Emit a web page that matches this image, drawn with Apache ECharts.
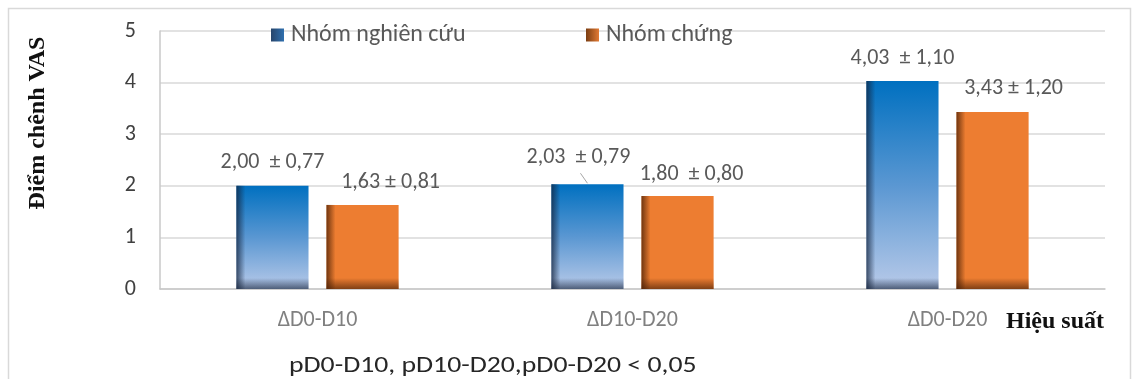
<!DOCTYPE html>
<html>
<head>
<meta charset="utf-8">
<script src="https://cdn.jsdelivr.net/npm/echarts@6/dist/echarts.min.js"></script>
<style>
  html, body { margin: 0; padding: 0; background: #fff; }
  #chart { width: 1137px; height: 379px; }
</style>
</head>
<body>
<div id="chart"></div>
<script>
// VAS score change per period, mean ± SD, for the two groups
const categories = ['ΔD0-D10', 'ΔD10-D20', 'ΔD0-D20'];
const studyMean = [2.00, 2.03, 4.03];
const studySD = [0.77, 0.79, 1.10];
const controlMean = [1.63, 1.80, 3.43];
const controlSD = [0.81, 0.80, 1.20];
const yTicks = [0, 1, 2, 3, 4, 5];
const seriesNames = ['Nhóm nghiên cứu', 'Nhóm chứng'];
const yTitle = 'Điểm chênh VAS';
const xTitle = 'Hiệu suất';
const footnote = 'pD0-D10, pD10-D20,pD0-D20 < 0,05';

const SANS = 'Carlito, Lato, "Liberation Sans", sans-serif';
const SERIF = '"Liberation Serif", "DejaVu Serif", serif';

// bar geometry, as fractions of one category band
const BAR_RATIO = 0.229;
const OFFSET_RATIO = 0.143;

// value-label placement per bar: [dx, dy above bar top, separator before ±, leader line]
const labelPlacement = [
  [[0, 23, '  ', false], [-9, 27, '  ', true], [0, 23, '  ', false]],
  [[28, 22, ' ', false], [14, 22, '  ', false], [21, 24, ' ', false]]
];

const fmt = v => v.toFixed(2).replace('.', ',');

const themes = [
  {
    fill: new echarts.graphic.LinearGradient(0, 0, 0, 1, [
      { offset: 0, color: '#0070C0' },
      { offset: 0.5, color: '#5a97d2' },
      { offset: 1, color: '#B8CAE9' }
    ]),
    edge: 'rgba(20,35,60,',
    legend: new echarts.graphic.LinearGradient(0, 0, 1, 0, [
      { offset: 0, color: '#27456b' },
      { offset: 1, color: '#2f6fae' }
    ])
  },
  {
    fill: '#ED7D31',
    edge: 'rgba(70,30,5,',
    legend: new echarts.graphic.LinearGradient(0, 0, 1, 0, [
      { offset: 0, color: '#7a3d12' },
      { offset: 1, color: '#e27a34' }
    ])
  }
];

function makeRender(si, means, sds) {
  const th = themes[si];
  return function (params, api) {
    const ci = api.value(0);
    const val = api.value(1);
    const base = api.coord([ci, 0]);
    const top = api.coord([ci, val]);
    const band = api.size([1, 0])[0];
    const w = band * BAR_RATIO;
    const cx = base[0] + (si === 0 ? -1 : 1) * band * OFFSET_RATIO;
    const x = cx - w / 2;
    const h = base[1] - top[1];
    const pl = labelPlacement[si][ci];
    const lx = cx + pl[0];
    const ly = top[1] - pl[1];
    const children = [
      { type: 'rect', shape: { x: x, y: top[1], width: w, height: h },
        style: { fill: th.fill } },
      // darkened left edge
      { type: 'rect', shape: { x: x, y: top[1], width: 9, height: h },
        style: { fill: new echarts.graphic.LinearGradient(0, 0, 1, 0, [
          { offset: 0, color: th.edge + '0.75)' },
          { offset: 1, color: th.edge + '0)' }
        ]) } },
      // darkened base
      { type: 'rect', shape: { x: x, y: base[1] - 11, width: w, height: 11 },
        style: { fill: new echarts.graphic.LinearGradient(0, 0, 0, 1, [
          { offset: 0, color: th.edge + '0)' },
          { offset: 1, color: th.edge + '0.65)' }
        ]) } },
      { type: 'text', x: lx, y: ly,
        style: { text: fmt(means[ci]) + pl[2] + '± ' + fmt(sds[ci]),
          fill: '#595959', font: '22px ' + SANS,
          align: 'center', verticalAlign: 'middle' } }
    ];
    if (pl[3]) {
      children.push({ type: 'line',
        shape: { x1: lx + 2, y1: ly + 16, x2: lx + 9, y2: top[1] - 1 },
        style: { stroke: '#a6a6a6', lineWidth: 1 } });
    }
    return { type: 'group', children: children };
  };
}

const chart = echarts.init(document.getElementById('chart'), null, { renderer: 'canvas' });

const legendBase = {
  orient: 'horizontal', top: 23, padding: 0, itemWidth: 13, itemHeight: 13, icon: 'rect',
  selectedMode: false,
  textStyle: { color: '#595959', fontSize: 24, fontFamily: SANS, padding: [0, 0, 0, 2] }
};

chart.setOption({
  animation: false,
  backgroundColor: '#fff',
  grid: { left: 160, right: 32, top: 31, bottom: 90 },
  legend: [
    Object.assign({}, legendBase, { left: 271, data: [seriesNames[0]] }),
    Object.assign({}, legendBase, { left: 586, data: [seriesNames[1]] })
  ],
  xAxis: {
    type: 'category',
    data: categories,
    axisLine: { lineStyle: { color: '#c8c8c8', width: 1.5 } },
    axisTick: { show: false },
    axisLabel: { color: '#808080', fontSize: 22, fontFamily: SANS, margin: 20 }
  },
  yAxis: {
    type: 'value',
    min: yTicks[0],
    max: yTicks[yTicks.length - 1],
    interval: 1,
    axisLine: { show: true, lineStyle: { color: '#c8c8c8', width: 1.5 } },
    axisTick: { show: false },
    axisLabel: { color: '#404040', fontSize: 22, fontFamily: SANS, margin: 24 },
    splitLine: { lineStyle: { color: '#d9d9d9', width: 1.5 } }
  },
  series: [
    {
      type: 'custom', name: seriesNames[0],
      itemStyle: { color: themes[0].legend },
      encode: { x: 0, y: 1 },
      data: studyMean.map((v, i) => [i, v]),
      renderItem: makeRender(0, studyMean, studySD)
    },
    {
      type: 'custom', name: seriesNames[1],
      itemStyle: { color: themes[1].legend },
      encode: { x: 0, y: 1 },
      data: controlMean.map((v, i) => [i, v]),
      renderItem: makeRender(1, controlMean, controlSD)
    }
  ],
  graphic: [
    { type: 'rect', z: -1, shape: { x: 8.5, y: 8.5, width: 1122, height: 400 },
      style: { fill: 'none', stroke: '#d9d9d9', lineWidth: 1.5 } },
    { type: 'text', x: 38, y: 123, rotation: Math.PI / 2,
      style: { text: yTitle, font: 'bold 24px ' + SERIF, fill: '#111',
        align: 'center', verticalAlign: 'middle' } },
    { type: 'text', x: 1104, y: 322,
      style: { text: xTitle, font: 'bold 24px ' + SERIF, fill: '#111',
        align: 'right', verticalAlign: 'middle' } },
    { type: 'text', x: 289, y: 366, scaleX: 1.26,
      style: { text: footnote, font: '22px ' + SANS, fill: '#262626',
        align: 'left', verticalAlign: 'middle' } }
  ]
});
</script>
</body>
</html>
